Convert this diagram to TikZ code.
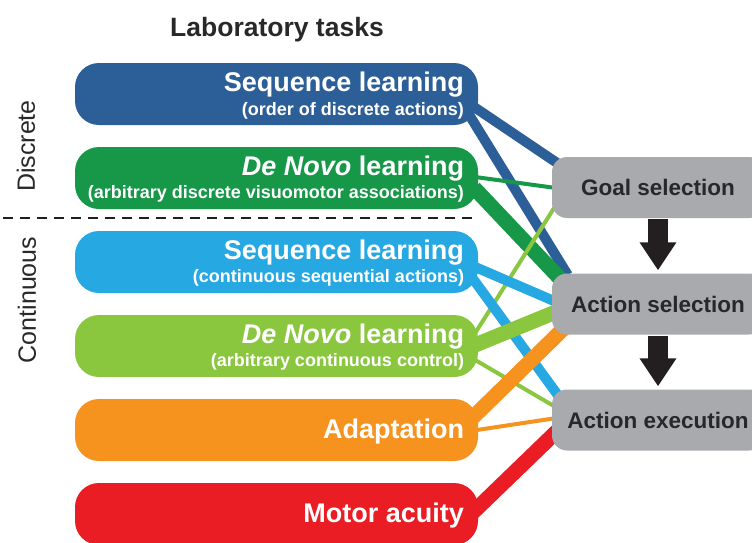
\documentclass[tikz,border=0pt]{standalone}
\usepackage{fontspec}
\setmainfont{Liberation Sans}
\usetikzlibrary{calc,arrows.meta}
\pgfdeclarelayer{background}
\pgfsetlayers{background,main}
\definecolor{cBlue}{RGB}{44,94,152}
\definecolor{cGreen}{RGB}{22,152,72}
\definecolor{cLBlue}{RGB}{38,168,226}
\definecolor{cLGreen}{RGB}{138,198,62}
\definecolor{cOrange}{RGB}{246,146,30}
\definecolor{cRed}{RGB}{234,28,36}
\definecolor{cGray}{RGB}{168,170,173}
\definecolor{cDark}{RGB}{35,31,32}
\definecolor{cText}{RGB}{40,40,42}
\tikzset{
  taskbox/.style={minimum width=403pt, minimum height=62pt, rounded corners=24pt, inner sep=0pt},
  grbox/.style={fill=cGray, minimum width=212pt, minimum height=61pt, rounded corners=15pt,
    font=\bfseries\fontsize{22.5}{26}\selectfont, text=cText},
  ttl/.style={anchor=base east, inner sep=0pt, text=white, font=\bfseries\fontsize{27}{30}\selectfont},
  sub/.style={anchor=base east, inner sep=0pt, text=white, font=\bfseries\fontsize{18}{20}\selectfont},
  side/.style={rotate=90, inner sep=0pt, text=cText, font=\fontsize{25}{28}\selectfont},
  conn/.style={line cap=butt},
  thick1/.style={conn, line width=15pt},
  med1/.style={conn, line width=10pt},
  thin1/.style={conn, line width=4pt},
  bigarrow/.style={cDark, line width=20pt, -{Triangle[width=35pt,length=28pt]}}
}
\begin{document}
\begin{tikzpicture}[x=1pt,y=-1pt]
\useasboundingbox (0,0) rectangle (752,542);
\clip (0,0) rectangle (752,542);
% task boxes
\node[taskbox, fill=cBlue]   (b1) at (276.5,94)  {};
\node[taskbox, fill=cGreen]  (b2) at (276.5,178) {};
\node[taskbox, fill=cLBlue]  (b3) at (276.5,262) {};
\node[taskbox, fill=cLGreen] (b4) at (276.5,346) {};
\node[taskbox, fill=cOrange] (b5) at (276.5,430) {};
\node[taskbox, fill=cRed]    (b6) at (276.5,514) {};
% texts
\node[ttl] (t1) at ($(b1.east)+(-14,-3)$) {Sequence learning};
\node[sub] (s1) at ($(b1.east)+(-14,21)$) {(order of discrete actions)};
\node[ttl] (t2) at ($(b2.east)+(-14,-3)$) {\textit{De Novo} learning};
\node[sub] (s2) at ($(b2.east)+(-14,20)$) {(arbitrary discrete visuomotor associations)};
\node[ttl] (t3) at ($(b3.east)+(-14,-3)$) {Sequence learning};
\node[sub] (s3) at ($(b3.east)+(-14,20)$) {(continuous sequential actions)};
\node[ttl] (t4) at ($(b4.east)+(-14,-3)$) {\textit{De Novo} learning};
\node[sub] (s4) at ($(b4.east)+(-14,20)$) {(arbitrary continuous control)};
\node[ttl] (t5) at ($(b5.east)+(-14,8)$) {Adaptation};
\node[ttl] (t6) at ($(b6.east)+(-14,8)$) {Motor acuity};
% gray boxes
\node[grbox] (g1) at (658,187.5) {Goal selection};
\node[grbox] (g2) at (658,304) {Action selection};
\node[grbox] (g3) at (658,420) {Action execution};
% connectors (behind boxes)
\begin{pgfonlayer}{background}
\draw[med1, cBlue]    ($(b1.east)+(-10,9)$)   -- ($(g1.west)+(12,-20)$);
\draw[med1, cBlue]    ($(b1.east)+(-12,16)$)  -- ($(g2.west)+(16,-29)$);
\draw[thin1, cGreen]  ($(b2.east)+(-3,-1)$)   -- ($(g1.west)+(8,1)$);
\draw[thick1, cGreen] ($(b2.east)+(-4,10)$)   -- ($(g2.west)+(10,-23.5)$);
\draw[thin1, cLGreen] ($(b4.east)+(-3,-13)$)  -- ($(g1.west)+(7,13)$);
\draw[med1, cLBlue]   ($(b3.east)+(-3,5)$)    -- ($(g2.west)+(8,-0.5)$);
\draw[med1, cLBlue]   ($(b3.east)+(-8,13)$)   -- ($(g3.west)+(10,-19.5)$);
\draw[thick1, cLGreen]($(b4.east)+(-3,-1)$)   -- ($(g2.west)+(10,5.5)$);
\draw[thin1, cLGreen] ($(b4.east)+(-3,14)$)   -- ($(g3.west)+(8,-10.5)$);
\draw[thick1, cOrange]($(b5.east)+(-8,-10)$)  -- ($(g2.west)+(18,18.5)$);
\draw[thin1, cOrange] ($(b5.east)+(-8,1)$)    -- ($(g3.west)+(8,-2.5)$);
\draw[thick1, cRed]   ($(b6.east)+(-8,1)$)    -- ($(g3.west)+(10,6.5)$);
\end{pgfonlayer}
% big arrows
\draw[bigarrow] ($(g1.south)+(0,1)$) -- ($(g2.north)+(0,-3)$);
\draw[bigarrow] ($(g2.south)+(0,1)$) -- ($(g3.north)+(0,-3)$);
% headings and side labels
\node[anchor=base, inner sep=0pt, text=cText, font=\bfseries\fontsize{26.5}{30}\selectfont] (head) at (277,36) {Laboratory tasks};
\node[side] (disc) at (26,146) {Discrete};
\node[side] (cont) at (27,300) {Continuous};
\coordinate (dl) at (3,218);
\coordinate (dr) at (478,218);
\draw[cDark, line width=1.8pt, dash pattern=on 10pt off 7pt] (dl) -- (dr);
\end{tikzpicture}
\end{document}
